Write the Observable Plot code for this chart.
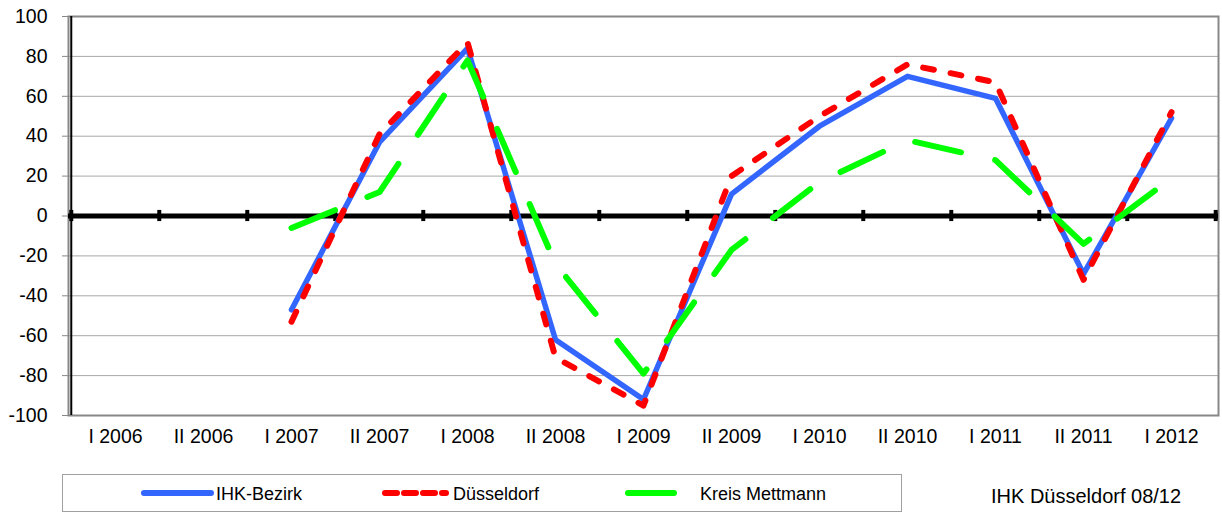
<!DOCTYPE html>
<html>
<head>
<meta charset="utf-8">
<script src="https://cdn.jsdelivr.net/npm/d3@7"></script>
<script src="https://cdn.jsdelivr.net/npm/@observablehq/plot@0.6"></script>
<style>
  html, body { margin: 0; padding: 0; background: #fff; }
  #wrap { position: relative; width: 1222px; height: 517px; font-family: "Liberation Sans", Arial, Helvetica, sans-serif; }
  #chart { position: absolute; left: 0; top: 0; }
  #legend { position: absolute; left: 62px; top: 474px; width: 840px; height: 38px; box-sizing: border-box; border: 1px solid #a0a0a0; }
  #caption { position: absolute; left: 991px; top: 485px; font-size: 20px; color: #000; white-space: nowrap; }
</style>
</head>
<body>
<div id="wrap">
  <div id="chart"></div>
  <div id="legend"></div>
  <div id="caption">IHK Düsseldorf 08/12</div>
</div>
<script>
const categories = ["I 2006","II 2006","I 2007","II 2007","I 2008","II 2008","I 2009","II 2009","I 2010","II 2010","I 2011","II 2011","I 2012"];
const ihkBezirk   = [null, null, -47, 37, 84, -62, -92, 11, 45, 70, 59, -29, 49];
const duesseldorf = [null, null, -53, 41, 87, -71, -95, 20, 50, 76, 67, -32, 52];
const mettmann    = [null, null,  -6, 12, 78, -24, -79, -17, 17, 38, 28, -14, 19];
const yTicks = [-100, -80, -60, -40, -20, 0, 20, 40, 60, 80, 100];
const seriesNames = ["IHK-Bezirk", "Düsseldorf", "Kreis Mettmann"];

const W = 1222, H = 460, ML = 68, MR = 4, MT = 16, MB = 45;
const bw = (W - ML - MR) / categories.length;

function rows(vals) {
  return categories.map((c, i) => ({cat: c, v: vals[i]})).filter(d => d.v != null);
}

const chart = Plot.plot({
  width: W, height: H,
  marginLeft: ML, marginRight: MR, marginTop: MT, marginBottom: MB,
  style: {fontFamily: '"Liberation Sans", Arial, Helvetica, sans-serif', background: "white", color: "black"},
  x: {type: "band", domain: categories, padding: 0},
  y: {domain: [-100, 100]},
  marks: [
    Plot.ruleY(yTicks.filter(v => v !== 0 && Math.abs(v) !== 100), {stroke: "#a8a8a8", strokeWidth: 1}),
    Plot.frame({stroke: "#888", strokeWidth: 2}),
    Plot.ruleX([categories[0]], {x: d => d, y1: -100, y2: 100, dx: -bw / 2, stroke: "black", strokeWidth: 2}),
    Plot.axisY({ticks: yTicks, tickSize: 6, tickPadding: 15, tickFormat: d => String(d), fontSize: 19.5, stroke: "#888", label: null}),
    Plot.axisX({tickSize: 0, tickPadding: 14, fontSize: 19.5, label: null}),
    Plot.ruleY([0], {stroke: "black", strokeWidth: 5}),
    Plot.ruleX(categories, {x: d => d, y1: -2.8, y2: 2.8, dx: -bw / 2, stroke: "black", strokeWidth: 4}),
    Plot.ruleX([categories[categories.length - 1]], {x: d => d, y1: -2.8, y2: 2.8, dx: bw / 2, stroke: "black", strokeWidth: 4}),
    Plot.line(rows(ihkBezirk), {x: "cat", y: "v", stroke: "#3366ff", strokeWidth: 5.5, strokeLinejoin: "round", strokeLinecap: "round"}),
    Plot.line(rows(duesseldorf), {x: "cat", y: "v", stroke: "#ff0000", strokeWidth: 6, strokeDasharray: "11,17", strokeLinejoin: "round", strokeLinecap: "round"}),
    Plot.line(rows(mettmann), {x: "cat", y: "v", stroke: "#00ff00", strokeWidth: 6, strokeDasharray: "47,35", strokeLinejoin: "round", strokeLinecap: "round"})
  ]
});
document.getElementById("chart").appendChild(chart);

// Legend
const colors = ["#3366ff", "#ff0000", "#00ff00"];
const dashes = [null, "12,7", null];
const swatchX = [[81, 148], [322, 383], [565, 611]];
const textX = [153, 390, 637];
const ns = "http://www.w3.org/2000/svg";
const lsvg = document.createElementNS(ns, "svg");
lsvg.setAttribute("width", 838);
lsvg.setAttribute("height", 36);
lsvg.style.display = "block";
seriesNames.forEach((name, i) => {
  const ln = document.createElementNS(ns, "line");
  ln.setAttribute("x1", swatchX[i][0]); ln.setAttribute("x2", swatchX[i][1]);
  ln.setAttribute("y1", 18); ln.setAttribute("y2", 18);
  ln.setAttribute("stroke", colors[i]);
  ln.setAttribute("stroke-width", 6);
  ln.setAttribute("stroke-linecap", "round");
  if (dashes[i]) ln.setAttribute("stroke-dasharray", dashes[i]);
  lsvg.appendChild(ln);
  const t = document.createElementNS(ns, "text");
  t.setAttribute("x", textX[i]); t.setAttribute("y", 24.5);
  t.setAttribute("font-size", 18);
  t.setAttribute("font-family", '"Liberation Sans", Arial, Helvetica, sans-serif');
  t.textContent = name;
  lsvg.appendChild(t);
});
document.getElementById("legend").appendChild(lsvg);
</script>
</body>
</html>
